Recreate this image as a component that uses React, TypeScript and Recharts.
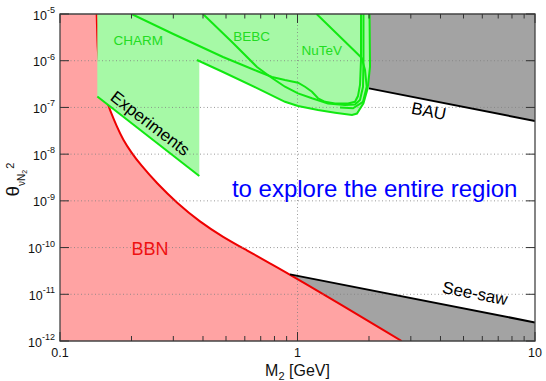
import React from 'react'
import {
  ComposedChart,
  Area,
  Line,
  XAxis,
  YAxis,
  ReferenceLine,
  ReferenceArea,
  ReferenceDot,
} from 'recharts'

const FONT = '"Liberation Sans", Arial, Helvetica, sans-serif'

const TOP = 1e-5
const FLOOR = 1e-12

// axis ticks
const xMajor = [0.1, 1, 10]
const xTicks = [0.1, 0.2, 0.3, 0.4, 0.5, 0.6, 0.7, 0.8, 0.9, 1, 2, 3, 4, 5, 6, 7, 8, 9, 10]
const yTicks = [1e-12, 1e-11, 1e-10, 1e-9, 1e-8, 1e-7, 1e-6, 1e-5]
const gridY = [1e-11, 1e-10, 1e-9, 1e-8, 1e-7, 1e-6]

// BBN bound (mixing below the curve is excluded)
const bbnMass = [0.1427, 0.1437, 0.1445, 0.1547, 0.1624, 0.1733, 0.1842, 0.2003, 0.2172, 0.2561, 0.3109, 0.3885, 0.4857, 0.6128, 0.766, 0.9298, 2.746]
const bbnTheta = [1e-5, 2.77e-6, 1.035e-6, 1.67e-7, 8.8e-8, 3.9e-8, 2.05e-8, 1.06e-8, 6.14e-9, 2.35e-9, 8.97e-10, 3.52e-10, 1.68e-10, 8.7e-11, 4.6e-11, 2.67e-11, 1e-12]

// union of experimental exclusions (lower edge of the green region)
const expMass = [0.1436, 0.3859, 0.3859, 0.4857, 0.6753, 0.8858, 1.005, 1.22, 1.439, 1.696, 1.78, 1.895, 1.975, 2.02, 2.02]
const expLow = [1.72e-7, 3.4e-9, 1.035e-6, 5.73e-7, 2.6e-7, 1.32e-7, 1.07e-7, 8.8e-8, 7.7e-8, 6.87e-8, 7.4e-8, 1.22e-7, 2.56e-7, 7.44e-7, 1e-5]

// extrapolated "Experiments" edge
const extrapMass = [0.1436, 0.3859]
const extrapTheta = [1.72e-7, 3.4e-9]

// individual contours
const charmMass = [0.2003, 0.2999, 0.37, 0.4857, 0.5727, 0.6753, 0.781, 0.8858, 1.005, 1.0755, 1.151, 1.22, 1.306, 1.439, 1.632, 1.746, 1.797, 1.833, 1.851, 1.851]
const charmTheta = [1e-5, 3.73e-6, 2.28e-6, 1.2e-6, 8.5e-7, 6.02e-7, 4.48e-7, 3.86e-7, 3.38e-7, 2.77e-7, 2.17e-7, 1.57e-7, 1.32e-7, 1.22e-7, 1.22e-7, 1.32e-7, 1.75e-7, 3.02e-7, 1.035e-6, 1e-5]

const bebcMass = [0.4, 0.5352, 0.6753, 0.781, 0.8858, 1.005, 1.151, 1.344, 1.585, 1.746, 1.833, 1.887, 1.896, 1.896]
const bebcTheta = [1e-5, 2.39e-6, 7.33e-7, 4.26e-7, 2.77e-7, 2.0e-7, 1.57e-7, 1.22e-7, 1.125e-7, 1.16e-7, 1.44e-7, 2.77e-7, 1.035e-6, 1e-5]

const outerMass = [0.3773, 0.4857, 0.6753, 0.8858, 1.005, 1.22, 1.439, 1.696, 1.78, 1.895, 1.975, 2.02, 2.01]
const outerTheta = [1.035e-6, 5.73e-7, 2.6e-7, 1.32e-7, 1.07e-7, 8.8e-8, 7.7e-8, 6.87e-8, 7.4e-8, 1.22e-7, 2.56e-7, 7.44e-7, 1e-5]

const nutevMass = [1.204, 1.775, 1.864, 1.924, 1.956, 1.887, 1.713, 1.51]
const nutevTheta = [1e-5, 1.46e-6, 1.14e-6, 6.32e-7, 2.77e-7, 1.32e-7, 9.57e-8, 9.95e-8]

// baryon asymmetry bound and see-saw line
const bauMass = [2.0, 10]
const bauTheta = [2.56e-7, 5.12e-8]
const seesawMass = [0.9298, 10]
const seesawTheta = [2.67e-11, 2.5e-12]

const line = (m: number[], t: number[]) => m.map((x, i) => ({ m: x, t: t[i] }))
const band = (m: number[], lo: number[] | number, hi: number[] | number) =>
  m.map((x, i) => ({
    m: x,
    r: [Array.isArray(lo) ? lo[i] : lo, Array.isArray(hi) ? hi[i] : hi],
  }))

// the BBN fill also covers the strip left of the curve; the corner point is
// repeated so the smoothed edge still meets the top of the frame squarely
const bbnFill = band(
  [0.1, bbnMass[0], bbnMass[0], ...bbnMass],
  FLOOR,
  [TOP, bbnTheta[0], bbnTheta[0], ...bbnTheta],
)
const bbnLine = line(bbnMass, bbnTheta)
const expFill = band(expMass, expLow, TOP)
const bauFill = band(bauMass, bauTheta, TOP)
const seesawFill = band(seesawMass, FLOOR, seesawTheta)

const notes = [
  { text: 'CHARM', m: 0.2137, t: 2.65e-6, color: '#22dd22', size: 13.5, angle: 0 },
  { text: 'BEBC', m: 0.6414, t: 3.38e-6, color: '#22dd22', size: 13.5, angle: 0 },
  { text: 'NuTeV', m: 1.264, t: 1.67e-6, color: '#22dd22', size: 13.5, angle: 0 },
  { text: 'Experiments', m: 0.2393, t: 4.52e-8, color: '#000', size: 17, angle: 37.5 },
  { text: 'BAU', m: 3.57, t: 8.2e-8, color: '#000', size: 17, angle: 11 },
  { text: 'See-saw', m: 5.59, t: 1.03e-11, color: '#000', size: 17, angle: 11 },
  { text: 'BBN', m: 0.2393, t: 9.4e-11, color: '#ee1111', size: 18, angle: 0 },
  { text: 'to explore the entire region', m: 2.113, t: 1.88e-9, color: '#0000ff', size: 24, angle: 0 },
]

const GREEN = '#11e811'
const AXIS = '#333'

function LeftTick({ x, y, payload }: any) {
  const exp = Math.round(Math.log10(payload.value))
  return (
    <g>
      <line x1={x} x2={x + 9} y1={y} y2={y} stroke={AXIS} strokeWidth={1} />
      <text x={x - 5} y={y + 5.5} textAnchor="end" fontSize={12.5} fill="#111" fontFamily={FONT}>
        10<tspan dy={-6.5} fontSize={9}>{exp}</tspan>
      </text>
    </g>
  )
}

function RightTick({ x, y }: any) {
  return <line x1={x - 9} x2={x} y1={y} y2={y} stroke={AXIS} strokeWidth={1} />
}

function BottomTick({ x, y, payload }: any) {
  const major = xMajor.includes(payload.value)
  return (
    <g>
      <line x1={x} x2={x} y1={y} y2={y - (major ? 9 : 5)} stroke={AXIS} strokeWidth={1} />
      {major && (
        <text x={x} y={y + 15.5} textAnchor="middle" fontSize={12.5} fill="#111" fontFamily={FONT}>
          {payload.value}
        </text>
      )}
    </g>
  )
}

function TopTick({ x, y, payload }: any) {
  const major = xMajor.includes(payload.value)
  return <line x1={x} x2={x} y1={y} y2={y + (major ? 9 : 4.5)} stroke={AXIS} strokeWidth={1} />
}

function XTitle({ viewBox }: any) {
  const { x, y, width } = viewBox
  return (
    <text x={x + width / 2} y={y + 35} textAnchor="middle" fontSize={16} fill="#111" fontFamily={FONT}>
      M<tspan fontSize={11} dy={4}>2</tspan>
      <tspan dy={-4}> [GeV]</tspan>
    </text>
  )
}

function YTitle({ viewBox }: any) {
  const { x, y, height } = viewBox
  return (
    <text transform={`translate(${x + 19},${y + height / 2 + 19}) rotate(-90)`} fill="#111" fontFamily={FONT}>
      <tspan fontSize={19}>θ</tspan>
      <tspan fontSize={10} dy={6}>νN</tspan>
      <tspan fontSize={7} dy={2}>2</tspan>
      <tspan fontSize={11} dy={-13} dx={1}>2</tspan>
    </text>
  )
}

const noteShape = (n: (typeof notes)[number]) => (p: any) => (
  <text
    x={p.cx}
    y={p.cy}
    transform={n.angle ? `rotate(${n.angle} ${p.cx} ${p.cy})` : undefined}
    textAnchor="middle"
    dominantBaseline="central"
    fill={n.color}
    fontSize={n.size}
    fontFamily={FONT}
  >
    {n.text}
  </text>
)

export default function App() {
  const xProps = {
    type: 'number' as const,
    dataKey: 'm',
    scale: 'log' as const,
    domain: [0.1, 10],
    allowDataOverflow: true,
    ticks: xTicks,
    interval: 0,
    tickSize: 0,
    tickMargin: 0,
    tickLine: false,
    axisLine: false,
  }
  const yProps = {
    type: 'number' as const,
    scale: 'log' as const,
    domain: [FLOOR, TOP],
    allowDataOverflow: true,
    ticks: yTicks,
    interval: 0,
    tickSize: 0,
    tickMargin: 0,
    tickLine: false,
    axisLine: false,
  }
  const lineProps = { type: 'linear' as const, dot: false, activeDot: false, isAnimationActive: false }
  const grid = { stroke: '#808080', strokeWidth: 0.8, strokeDasharray: '1 2.5', zIndex: 130 }
  return (
    <div style={{ position: 'absolute', left: 0, top: 0, background: '#fff' }}>
      <ComposedChart
        width={546}
        height={381}
        margin={{ top: 0, right: 0, bottom: 0, left: 0 }}
        style={{ fontFamily: FONT }}
      >
        <XAxis {...xProps} xAxisId={0} orientation="bottom" height={40} tick={<BottomTick />} label={<XTitle />} />
        <XAxis {...xProps} xAxisId="top" orientation="top" height={14} tick={<TopTick />} />
        <YAxis {...yProps} yAxisId={0} orientation="left" width={60} tick={<LeftTick />} label={<YTitle />} />
        <YAxis {...yProps} yAxisId="right" orientation="right" width={11} tick={<RightTick />} />

        <Area data={bauFill} dataKey="r" type="linear" stroke="none" fill="#a3a3a3" fillOpacity={1} isAnimationActive={false} dot={false} activeDot={false} zIndex={100} />
        <Area data={seesawFill} dataKey="r" type="linear" stroke="none" fill="#a3a3a3" fillOpacity={1} isAnimationActive={false} dot={false} activeDot={false} zIndex={101} />
        <Area data={bbnFill} dataKey="r" type="basis" stroke="none" fill="#ffa3a3" fillOpacity={1} isAnimationActive={false} dot={false} activeDot={false} zIndex={102} />
        <Line data={bbnLine} dataKey="t" {...lineProps} type="basis" stroke="#ee0000" strokeWidth={2} zIndex={110} />
        <Area data={expFill} dataKey="r" type="linear" stroke="none" fill="#a6f9a6" fillOpacity={1} isAnimationActive={false} dot={false} activeDot={false} zIndex={120} />

        {gridY.map((v) => (
          <ReferenceLine key={v} y={v} {...grid} />
        ))}
        <ReferenceLine x={1} {...grid} />

        <Line data={line(extrapMass, extrapTheta)} dataKey="t" {...lineProps} stroke={GREEN} strokeWidth={2} zIndex={400} />
        <Line data={line(charmMass, charmTheta)} dataKey="t" {...lineProps} stroke={GREEN} strokeWidth={2} zIndex={400} />
        <Line data={line(bebcMass, bebcTheta)} dataKey="t" {...lineProps} stroke={GREEN} strokeWidth={2} zIndex={400} />
        <Line data={line(outerMass, outerTheta)} dataKey="t" {...lineProps} stroke={GREEN} strokeWidth={2} zIndex={400} />
        <Line data={line(nutevMass, nutevTheta)} dataKey="t" {...lineProps} stroke={GREEN} strokeWidth={2} zIndex={400} />
        <Line data={line(bauMass, bauTheta)} dataKey="t" {...lineProps} stroke="#000" strokeWidth={2} zIndex={400} />
        <Line data={line(seesawMass, seesawTheta)} dataKey="t" {...lineProps} stroke="#000" strokeWidth={2} zIndex={400} />

        <ReferenceArea x1={0.1} x2={10} y1={FLOOR} y2={TOP} fill="none" fillOpacity={0} stroke="#444" strokeWidth={1.3} zIndex={600} />

        {notes.map((n) => (
          <ReferenceDot key={n.text} x={n.m} y={n.t} r={0} shape={noteShape(n)} zIndex={2000} />
        ))}
      </ComposedChart>
    </div>
  )
}
